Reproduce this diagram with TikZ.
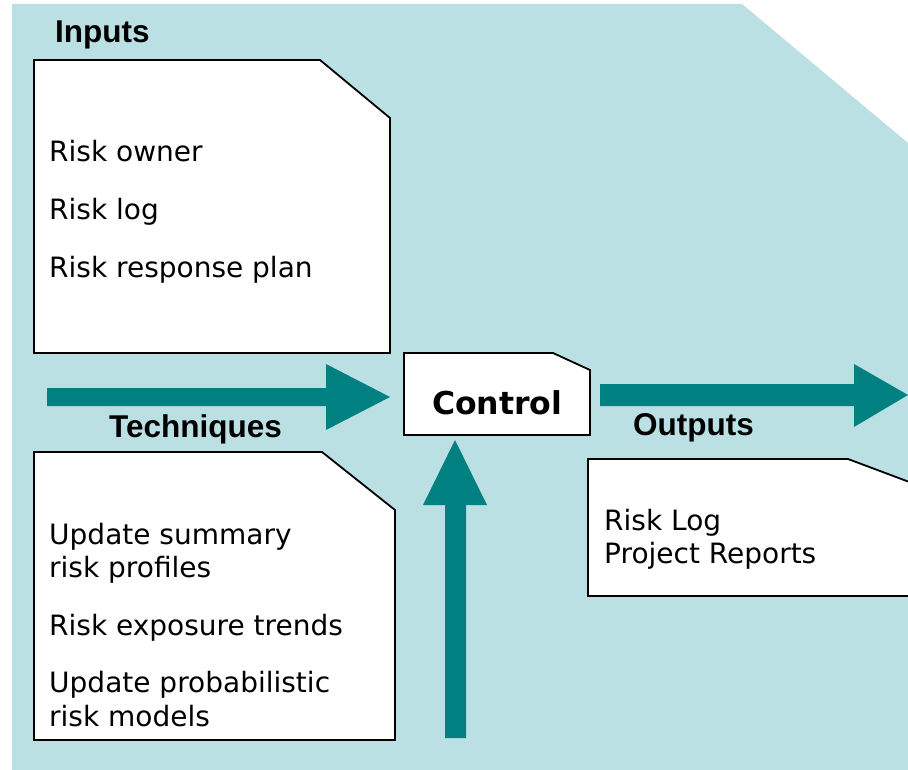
\documentclass[tikz,border=0pt]{standalone}
\usepackage{fontspec}
\setmainfont{DejaVu Sans}
\newfontfamily\headfont{Liberation Sans}
\definecolor{bgteal}{RGB}{187,224,227}
\definecolor{arrteal}{RGB}{0,128,128}
\tikzset{
  docbox/.style={draw=black, fill=white, line width=1.8pt, line join=miter},
  blockarrow/.style={fill=arrteal, draw=none},
  bodytext/.style={anchor=base west, inner sep=0pt, font=\fontsize{28}{33}\selectfont},
  headtext/.style={anchor=base west, inner sep=0pt, font=\headfont\bfseries\fontsize{31.5}{36}\selectfont},
  ctrltext/.style={anchor=base west, inner sep=0pt, font=\bfseries\fontsize{31.5}{36}\selectfont}
}
\begin{document}
\begin{tikzpicture}[x=1pt,y=-1pt]
\useasboundingbox (0,0) rectangle (908,770);
\clip (0,0) rectangle (908,770);
% background
\fill[bgteal] (12,4) -- (742,4) -- (908,143) -- (908,770) -- (12,770) -- cycle;
% boxes
\draw[docbox] (34,60) -- (320,60) -- (390,118) -- (390,353) -- (34,353) -- cycle;
\draw[docbox] (34,452) -- (322,452) -- (395,510) -- (395,740) -- (34,740) -- cycle;
\draw[docbox] (404,353) -- (553,353) -- (590,370) -- (590,435) -- (404,435) -- cycle;
\draw[docbox] (588,459) -- (848,459) -- (920,486) -- (920,596) -- (588,596) -- cycle;
% arrows
\fill[blockarrow] (47,388) -- (326,388) -- (326,364) -- (390,397) -- (326,430) -- (326,406) -- (47,406) -- cycle;
\fill[blockarrow] (600,384) -- (854,384) -- (854,364) -- (908,395) -- (854,427) -- (854,406) -- (600,406) -- cycle;
\fill[blockarrow] (445,738) -- (445,505) -- (423,505) -- (455,440) -- (487,505) -- (466,505) -- (466,738) -- cycle;
% headings
\node[headtext] (hin) at (55,43) {Inputs};
\node[headtext] (htech) at (109,437) {Techniques};
\node[headtext] (hout) at (633,435) {Outputs};
\node[ctrltext] (ctrl) at (432,414) {Control};
% inputs text
\node[bodytext] (i1) at (49,162) {Risk owner};
\node[bodytext] (i2) at (49,220) {Risk log};
\node[bodytext] (i3) at (49,277) {Risk response plan};
% techniques text
\node[bodytext] (t1) at (49,544) {Update summary};
\node[bodytext] (t1b) at (49,577) {risk profiles};
\node[bodytext] (t2) at (49,635) {Risk exposure trends};
\node[bodytext] (t3) at (49,692) {Update probabilistic};
\node[bodytext] (t3b) at (49,726) {risk models};
% outputs text
\node[bodytext] (o1) at (604,530) {Risk Log};
\node[bodytext] (o2) at (604,563) {Project Reports};
\end{tikzpicture}
\end{document}
